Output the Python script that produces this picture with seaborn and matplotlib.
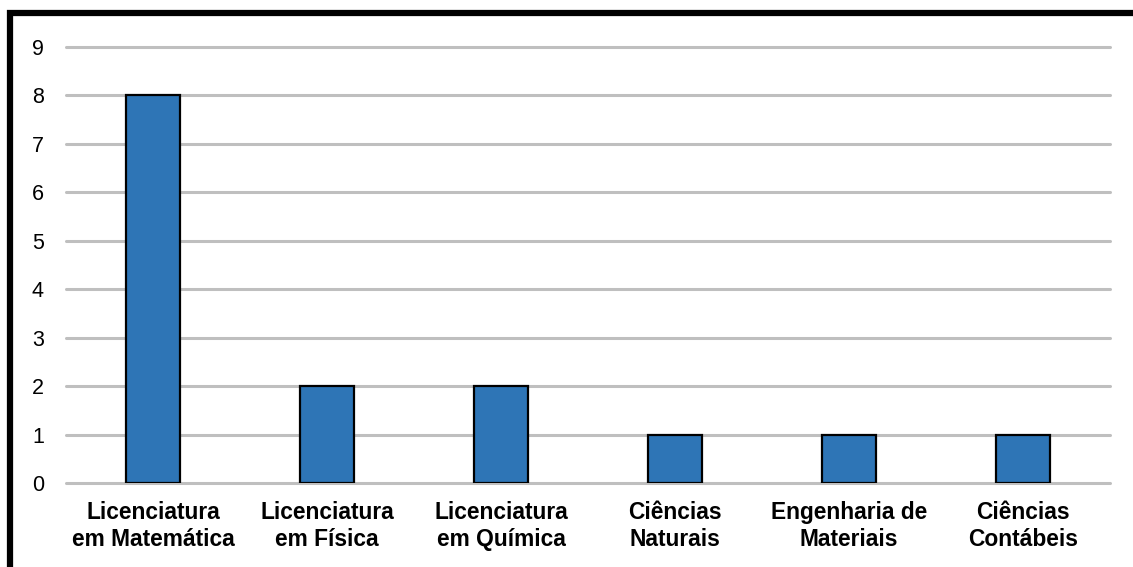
import matplotlib
matplotlib.use("Agg")
import matplotlib.pyplot as plt
from matplotlib.patches import Rectangle
import seaborn as sns
import pandas as pd

cursos = [
    "Licenciatura\nem Matemática",
    "Licenciatura\nem Física",
    "Licenciatura\nem Química",
    "Ciências\nNaturais",
    "Engenharia de\nMateriais",
    "Ciências\nContábeis",
]
quantidade = [8, 2, 2, 1, 1, 1]
y_ticks = list(range(0, 10))

df = pd.DataFrame({"curso": cursos, "quantidade": quantidade})

sns.set_style("white")
plt.rcParams["font.family"] = ["Liberation Sans", "DejaVu Sans"]
plt.rcParams["text.color"] = "black"
plt.rcParams["xtick.color"] = "black"
plt.rcParams["ytick.color"] = "black"

W, H, DPI = 1133, 567, 100
fig = plt.figure(figsize=(W / DPI, H / DPI), dpi=DPI)
ax = fig.add_axes([66 / W, 1 - 483 / H, (1110 - 66) / W, (483 - 47) / H])

sns.barplot(data=df, x="curso", y="quantidade", ax=ax, color="#2E75B6",
            saturation=1, width=0.31, edgecolor="black", linewidth=1.6,
            zorder=3)

ax.set_xlim(-0.5, len(cursos) - 0.5)
ax.set_ylim(0, 9)
ax.set_yticks(y_ticks)
ax.set_yticklabels([str(v) for v in y_ticks], fontsize=15.5, color="black")
ax.yaxis.grid(True, color="#BFBFBF", linewidth=2.2, zorder=0)
for gl in ax.get_ygridlines():
    gl.set_clip_on(False)
ax.set_axisbelow(True)
for s in ax.spines.values():
    s.set_visible(False)
ax.tick_params(axis="y", length=0, pad=16)
ax.tick_params(axis="x", length=0, pad=13)
for lbl in ax.get_xticklabels():
    lbl.set_fontsize(16.4)
    lbl.set_fontweight("bold")
    lbl.set_color("black")
    lbl.set_linespacing(1.22)
ax.set_xlabel("")
ax.set_ylabel("")

# outer frame, running off the right and bottom edges
fig.patches.append(Rectangle((10 / W, -0.1), 1.2, 1 - 13 / H + 0.1,
                             transform=fig.transFigure, fill=False,
                             edgecolor="black", linewidth=4.5))

fig.savefig("out.png", dpi=DPI)
